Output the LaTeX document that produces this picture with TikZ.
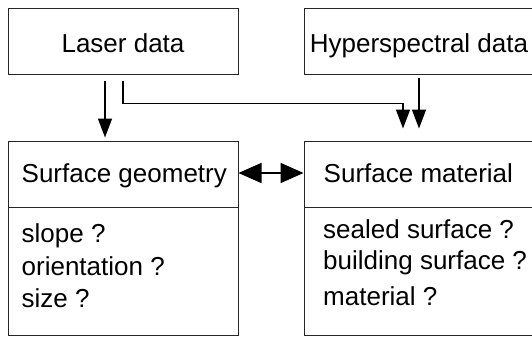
\documentclass[tikz,border=0pt]{standalone}
\usepackage{fontspec}
\setmainfont{Liberation Sans}
\usetikzlibrary{arrows.meta}
\begin{document}
\begin{tikzpicture}[x=1pt,y=-1pt,
  font=\fontsize{26}{31}\selectfont,
  box/.style={draw=black!85, line width=1pt, rectangle, minimum width=230pt, inner sep=0pt},
  topbox/.style={box, minimum height=66pt, text height=22pt, text depth=0pt, align=center},
  titlebox/.style={box, minimum height=66pt},
  bodybox/.style={box, minimum height=128pt},
  item/.style={anchor=base west, inner sep=0pt},
  conn/.style={draw=black, line width=1.6pt},
  arr/.style={conn, -{Triangle[length=19pt,width=14pt]}},
  darr/.style={conn, {Triangle[length=23pt,width=20pt]}-{Triangle[length=23pt,width=20pt]}}
]
\useasboundingbox (0,0) rectangle (532,338);
\clip (0,0) rectangle (532,338);

\node[topbox] (laser) at (123,41) {Laser data};
\node[topbox] (hyper) at (419,41) {Hyperspectral data};

\node[titlebox] (geotitle) at (123,174) {};
\node[bodybox] (geobody) at (123,271) {};
\node[titlebox] (mattitle) at (419,174) {};
\node[bodybox] (matbody) at (419,271) {};

\node[item] (gt) at (21.5,182) {Surface geometry};
\node[item] (mt) at (323.5,182) {Surface material};

\node[item] (g1) at (21.5,242) {slope ?};
\node[item] (g2) at (21.5,275) {orientation ?};
\node[item] (g3) at (21.5,307) {size ?};

\node[item] (m1) at (323,238) {sealed surface ?};
\node[item] (m2) at (323,269) {building surface ?};
\node[item] (m3) at (323,305) {material ?};

\draw[arr] ([xshift=-18pt,yshift=-6pt]laser.south) -- ([xshift=-18pt,yshift=3pt]geotitle.north);
\draw[arr] ([yshift=-6pt]laser.south) -- ++(0,23) -| ([xshift=-16pt,yshift=12pt]mattitle.north);
\draw[arr] ([yshift=-3pt]hyper.south) -- ([yshift=12pt]mattitle.north);
\draw[darr] ([yshift=1pt]geotitle.east) -- ([yshift=1pt]mattitle.west);
\end{tikzpicture}
\end{document}
